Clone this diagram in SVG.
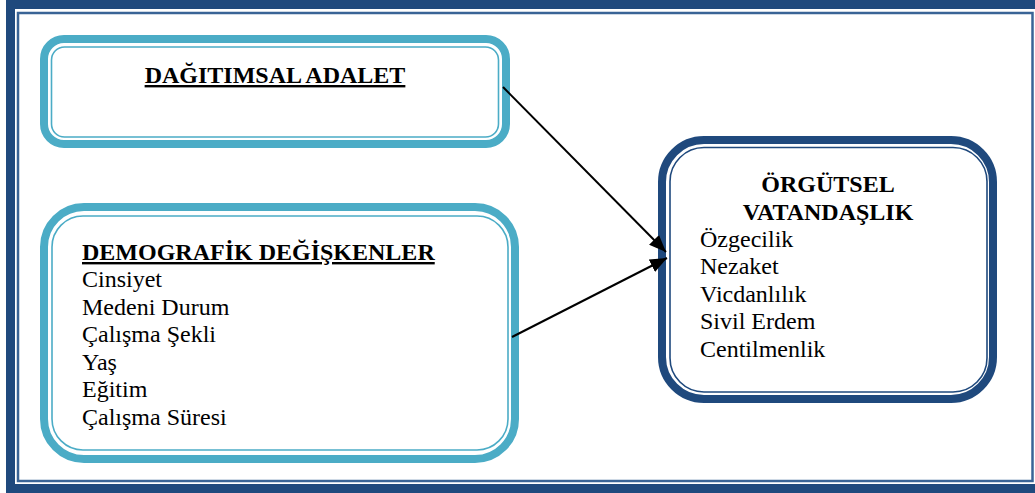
<svg xmlns="http://www.w3.org/2000/svg" width="1035" height="493" viewBox="0 0 1035 493">
  <style>
    .t { font-family: "Liberation Serif", "Times New Roman", serif; font-size: 24px; fill: #000; }
    .b { font-weight: bold; }
    .u { text-decoration: underline; }
    .cyanThick { fill: none; stroke: #4BACC6; stroke-width: 8; }
    .cyanThin { fill: none; stroke: #4BACC6; stroke-width: 1.6; }
    .navyThick { fill: none; stroke: #1F497D; stroke-width: 8; }
    .navyThin { fill: none; stroke: #1F497D; stroke-width: 1.6; }
    .conn { stroke: #000; stroke-width: 2; fill: none; }
  </style>
  <defs>
    <marker id="arrow" markerUnits="userSpaceOnUse" markerWidth="18" markerHeight="14" refX="17" refY="7" orient="auto">
      <path d="M0,0 L17,7 L0,14 Z" fill="#000"/>
    </marker>
  </defs>
  <rect width="1035" height="493" fill="#fff"/>
  <g id="frame">
    <rect x="10.5" y="4.5" width="1030" height="484" fill="none" stroke="#1F497D" stroke-width="9"/>
    <rect x="18" y="13" width="1014.5" height="468" fill="none" stroke="#3A6496" stroke-width="2.5"/>
  </g>
  <g id="node-dagitimsal">
    <rect class="cyanThick" x="44" y="39" width="462" height="105" rx="20"/>
    <rect class="cyanThin" x="51.5" y="47" width="447" height="90" rx="13"/>
    <text class="t b u" x="275" y="83" text-anchor="middle">DAĞITIMSAL ADALET</text>
  </g>
  <g id="node-demografik">
    <rect class="cyanThick" x="44" y="207" width="471" height="252" rx="40"/>
    <rect class="cyanThin" x="52" y="216" width="456" height="234" rx="31"/>
    <text class="t b u" x="82" y="260">DEMOGRAFİK DEĞİŞKENLER</text>
    <text class="t" x="82" y="287">Cinsiyet</text>
    <text class="t" x="82" y="314.5">Medeni Durum</text>
    <text class="t" x="82" y="342">Çalışma Şekli</text>
    <text class="t" x="82" y="369.5">Yaş</text>
    <text class="t" x="82" y="397">Eğitim</text>
    <text class="t" x="82" y="424.5">Çalışma Süresi</text>
  </g>
  <g id="node-orgutsel">
    <rect class="navyThick" x="662" y="140" width="331" height="259" rx="42"/>
    <rect class="navyThin" x="670" y="147.5" width="317" height="244.5" rx="34"/>
    <text class="t b" x="828" y="192" text-anchor="middle">ÖRGÜTSEL</text>
    <text class="t b" x="828" y="219.5" text-anchor="middle">VATANDAŞLIK</text>
    <text class="t" x="700" y="246.5">Özgecilik</text>
    <text class="t" x="700" y="274">Nezaket</text>
    <text class="t" x="700" y="301.5">Vicdanlılık</text>
    <text class="t" x="700" y="329">Sivil Erdem</text>
    <text class="t" x="700" y="356.5">Centilmenlik</text>
  </g>
  <g id="connectors">
    <line class="conn" x1="503" y1="87" x2="666" y2="252" marker-end="url(#arrow)"/>
    <line class="conn" x1="512" y1="337" x2="667" y2="258" marker-end="url(#arrow)"/>
  </g>
</svg>
